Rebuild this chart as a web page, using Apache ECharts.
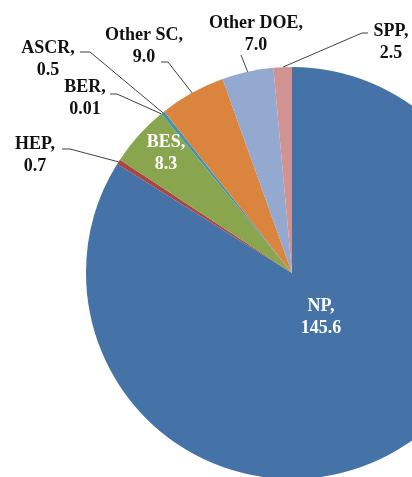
<!DOCTYPE html>
<html>
<head>
<meta charset="utf-8">
<script src="https://cdn.jsdelivr.net/npm/echarts@6/dist/echarts.min.js"></script>
<style>
  html, body { margin: 0; padding: 0; background: #ffffff; }
  #chart { width: 412px; height: 477px; }
</style>
</head>
<body>
<div id="chart"></div>
<script>
  // 数据（顺时针，从12点方向开始）
  const names = ['NP', 'HEP', 'BES', 'BER', 'ASCR', 'Other SC', 'Other DOE', 'SPP'];
  const values = [145.6, 0.7, 8.3, 0.01, 0.5, 9.0, 7.0, 2.5];
  const valueLabels = ['145.6', '0.7', '8.3', '0.01', '0.5', '9.0', '7.0', '2.5'];
  const colors = ['#4572A7', '#AA4643', '#89A54E', '#80699B', '#3D96AE', '#DB843D', '#93A9CF', '#D19392'];
  const insideNames = ['NP', 'BES'];

  // 标签位置与引导线折点（像素）
  const labelPos = {
    'NP':        { x: 321, y: 317 },
    'HEP':       { x: 35,  y: 155, line: [[70, 149], [62, 149]] },
    'BES':       { x: 166, y: 153 },
    'BER':       { x: 85,  y: 98,  line: [[117, 94], [110, 94]] },
    'ASCR':      { x: 48,  y: 59,  line: [[90, 52], [80, 52]] },
    'Other SC':  { x: 144, y: 46,  line: [[168, 62], [161, 62]] },
    'Other DOE': { x: 256, y: 34,  line: [[241, 55]] },
    'SPP':       { x: 391, y: 42,  line: [[362, 33], [368, 33]] }
  };

  const chart = echarts.init(document.getElementById('chart'));

  const seriesData = names.map((n, i) => {
    const inside = insideNames.includes(n);
    return {
      name: n,
      value: values[i],
      itemStyle: { color: colors[i] },
      label: {
        position: inside ? 'inside' : 'outside',
        color: inside ? '#ffffff' : '#111111',
        formatter: n + ',\n' + valueLabels[i]
      },
      labelLine: { show: !inside }
    };
  });

  const option = {
    animation: false,
    series: [
      {
        type: 'pie',
        center: [292, 273],
        radius: 206,
        startAngle: 90,
        clockwise: true,
        avoidLabelOverlap: false,
        itemStyle: { borderWidth: 0 },
        label: {
          show: true,
          fontFamily: 'Liberation Serif',
          fontWeight: 'bold',
          fontSize: 18,
          lineHeight: 22,
          align: 'center'
        },
        labelLine: {
          show: true,
          length: 20,
          length2: 10,
          lineStyle: { color: '#404040', width: 1 }
        },
        labelLayout: function (params) {
          const p = labelPos[names[params.dataIndex]];
          const res = { x: p.x, y: p.y, align: 'center', verticalAlign: 'middle' };
          if (p.line && params.labelLinePoints) {
            res.labelLinePoints = [params.labelLinePoints[0]].concat(p.line);
          }
          return res;
        },
        data: seriesData
      }
    ]
  };

  chart.setOption(option);
</script>
</body>
</html>
